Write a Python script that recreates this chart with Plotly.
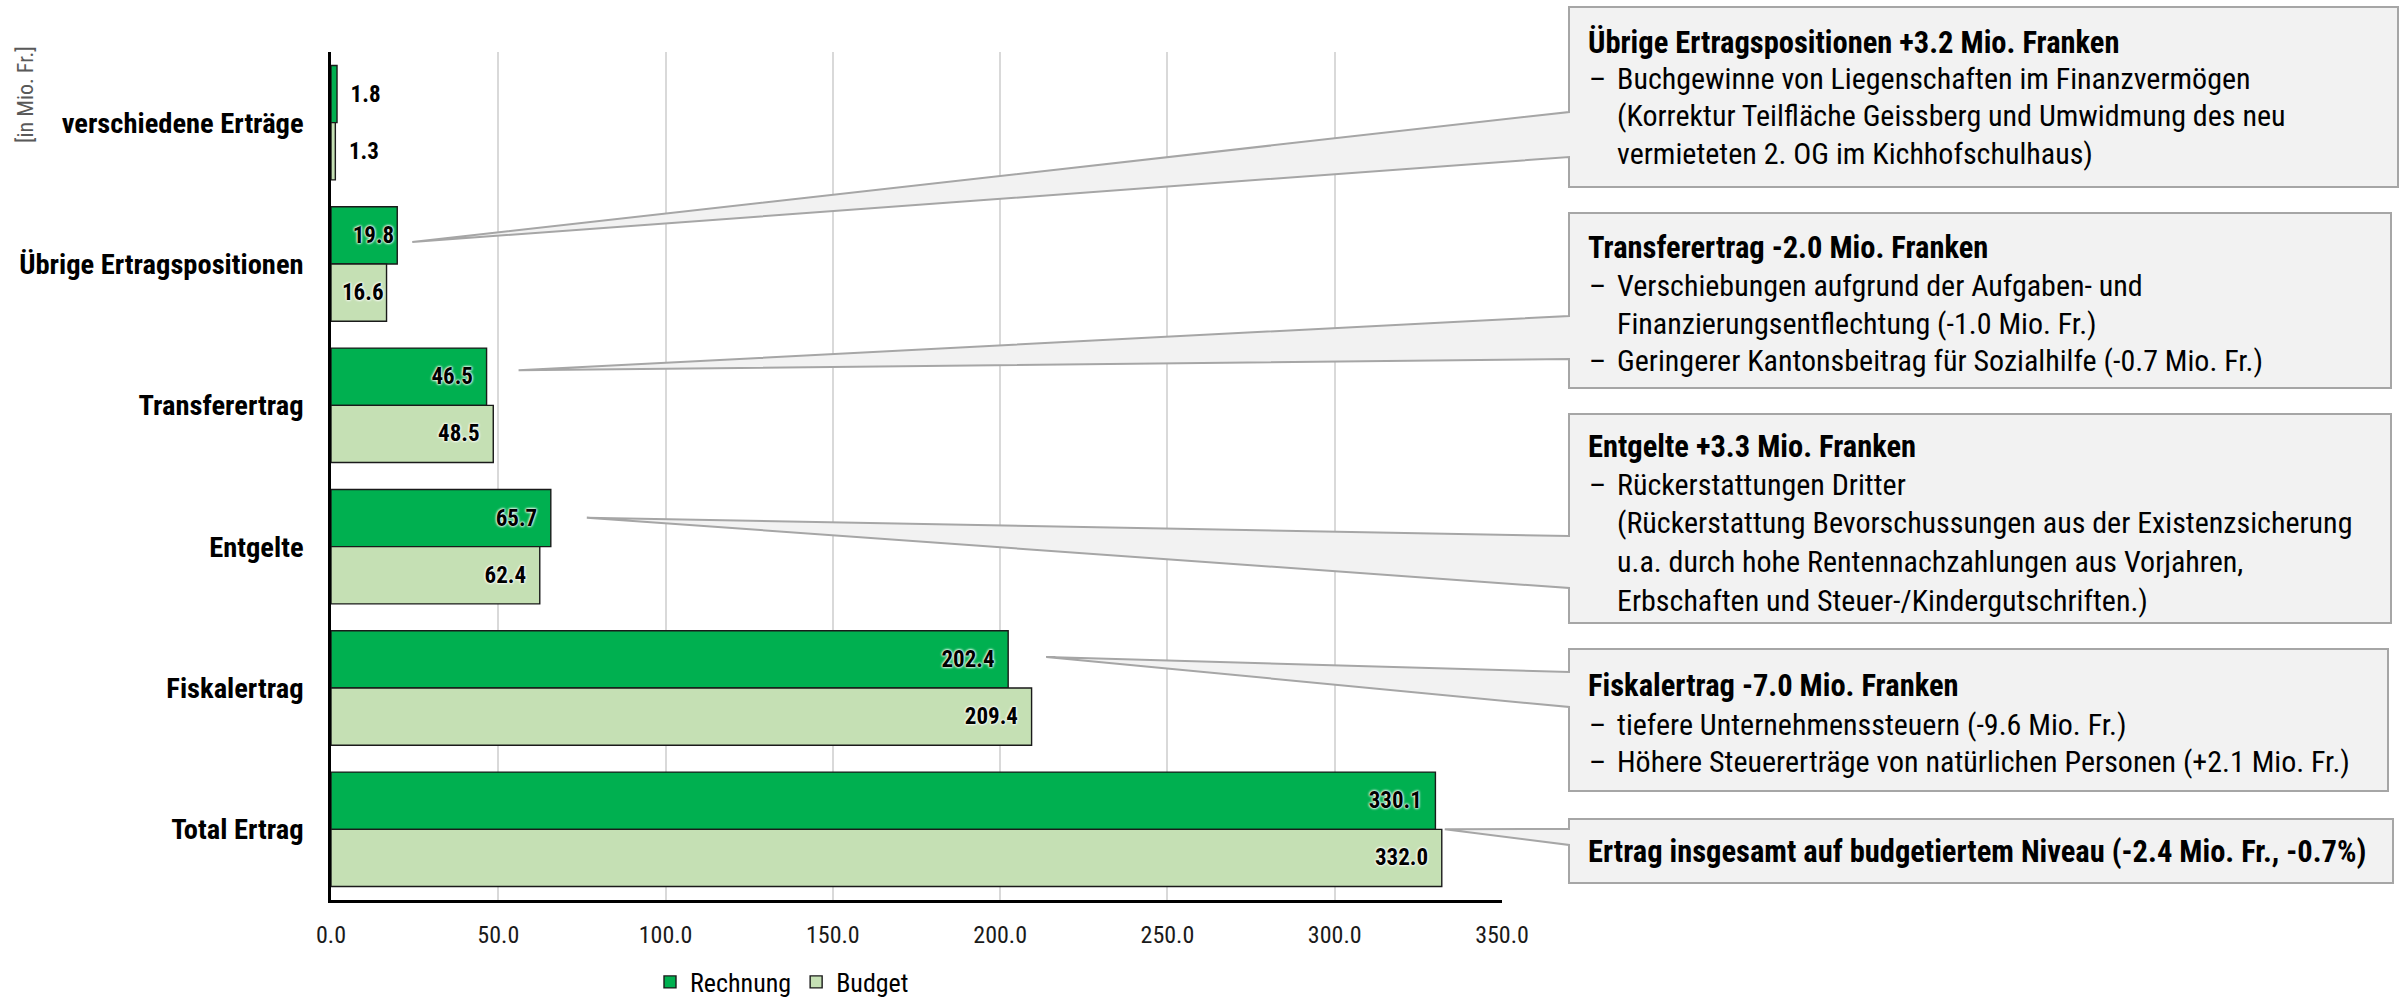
import plotly.graph_objects as go

# ---- data (Mio. Fr.) ----
categories = [
    "verschiedene Erträge",
    "Übrige Ertragspositionen",
    "Transferertrag",
    "Entgelte",
    "Fiskalertrag",
    "Total Ertrag",
]
rechnung = [1.8, 19.8, 46.5, 65.7, 202.4, 330.1]
budget = [1.3, 16.6, 48.5, 62.4, 209.4, 332.0]
x_ticks = [0, 50, 100, 150, 200, 250, 300, 350]

FONT = "Roboto Condensed, DejaVu Sans Condensed, sans-serif"
DARK_GREEN = "#00B050"
LIGHT_GREEN = "#C5E0B4"

# ---- page geometry (pixels) ----
W, H = 2402, 999
PL, PR, PT, PB = 331, 1502, 52, 900   # plot area edges
XMAX = 350


def paper_x(px):
    return (px - PL) / (PR - PL)


def paper_y(py):
    return (PB - py) / (PB - PT)


def data_px_x(v):
    return PL + v * (PR - PL) / XMAX


def cat_px_y(i):
    return PT + (i + 0.5) * (PB - PT) / len(categories)


def font(size, color="black", bold=False, family=FONT):
    return dict(family=family, size=size, color=color,
                weight="bold" if bold else "normal")


def labels(values):
    out = []
    for v in values:
        s = f"{v:.1f}"
        if v < 5:
            out.append("\u00a0\u00a0" + s)
        elif v >= 30:
            out.append(s + "\u00a0\u00a0")
        else:
            out.append(s)
    return out


def positions(values):
    return ["outside" if v < 5 else "inside" for v in values]


label_font = dict(font(23, bold=True),
                  shadow="0px 0px 2px #fff, 0px 0px 3px #fff, 0px 0px 3px #fff")

fig = go.Figure()
for name, vals, col in [("Rechnung", rechnung, DARK_GREEN), ("Budget", budget, LIGHT_GREEN)]:
    fig.add_trace(go.Bar(
        name=name, y=categories, x=vals, orientation="h",
        marker=dict(color=col, line=dict(color="#1a1a1a", width=1.4)),
        text=labels(vals), textposition=positions(vals),
        insidetextanchor="end", textangle=0,
        textfont=label_font, outsidetextfont=label_font, insidetextfont=label_font,
        cliponaxis=False,
        hoverinfo="skip",
    ))

# ---- callout boxes with pointer wedges ----
# (box left, top, right, bottom), wedge base y on left edge, tip: (series, category, dx, dy)
callouts = [
    ((1569, 7, 2398, 187), (112, 157), (rechnung, 1, 15, -22)),
    ((1569, 213, 2391, 388), (316, 359), (rechnung, 2, 32, -35)),
    ((1569, 414, 2391, 623), (536, 588), (rechnung, 3, 36, -29)),
    ((1569, 649, 2388, 791), (672, 707), (rechnung, 4, 38, -31)),
    ((1569, 819, 2393, 883), (829, 845), (budget, 5, 3, 0)),
]

callout_text = [
    [("title", "Übrige Ertragspositionen +3.2 Mio. Franken", 43),
     ("bullet", "Buchgewinne von Liegenschaften im Finanzvermögen", 79),
     ("cont", "(Korrektur Teilfläche Geissberg und Umwidmung des neu", 116),
     ("cont", "vermieteten 2. OG im Kichhofschulhaus)", 153)],
    [("title", "Transferertrag -2.0 Mio. Franken", 247),
     ("bullet", "Verschiebungen aufgrund der Aufgaben- und", 285),
     ("cont", "Finanzierungsentflechtung (-1.0 Mio. Fr.)", 323),
     ("bullet", "Geringerer Kantonsbeitrag für Sozialhilfe (-0.7 Mio. Fr.)", 360)],
    [("title", "Entgelte +3.3 Mio. Franken", 446),
     ("bullet", "Rückerstattungen Dritter", 484),
     ("cont", "(Rückerstattung Bevorschussungen aus der Existenzsicherung", 522),
     ("cont", "u.a. durch hohe Rentennachzahlungen aus Vorjahren,", 561),
     ("cont", "Erbschaften und Steuer-/Kindergutschriften.)", 600)],
    [("title", "Fiskalertrag -7.0 Mio. Franken", 685),
     ("bullet", "tiefere Unternehmenssteuern (-9.6 Mio. Fr.)", 724),
     ("bullet", "Höhere Steuererträge von natürlichen Personen (+2.1 Mio. Fr.)", 761)],
    [("title", "Ertrag insgesamt auf budgetiertem Niveau (-2.4 Mio. Fr., -0.7%)", 852)],
]

shapes = []
annotations = []
for (box, base, tip), lines in zip(callouts, callout_text):
    l, t, r, b = box
    series, ci, dx, dy = tip
    tx = data_px_x(series[ci]) + dx
    ty = cat_px_y(ci) + dy
    pts = [(l, t), (r, t), (r, b), (l, b), (l, base[1]), (tx, ty), (l, base[0])]
    path = "M " + " L ".join(f"{paper_x(x):.5f},{paper_y(y):.5f}" for x, y in pts) + " Z"
    shapes.append(dict(type="path", xref="paper", yref="paper", path=path,
                       fillcolor="#F2F2F2", line=dict(color="#A6A6A6", width=2),
                       layer="above"))
    for kind, txt, y in lines:
        if kind == "title":
            annotations.append(dict(text=txt, x=paper_x(1586), y=paper_y(y),
                                    xref="paper", yref="paper", xanchor="left", yanchor="middle",
                                    showarrow=False, font=font(30.5, bold=True)))
        else:
            if kind == "bullet":
                annotations.append(dict(text="–", x=paper_x(1587), y=paper_y(y),
                                        xref="paper", yref="paper", xanchor="left", yanchor="middle",
                                        showarrow=False, font=font(30)))
            annotations.append(dict(text=txt, x=paper_x(1615), y=paper_y(y),
                                    xref="paper", yref="paper", xanchor="left", yanchor="middle",
                                    showarrow=False, font=font(30)))

# unit label
annotations.append(dict(text="[in Mio. Fr.]", x=paper_x(26), y=paper_y(95),
                        xref="paper", yref="paper", xanchor="center", yanchor="middle",
                        textangle=-90, showarrow=False, font=font(22, "#595959")))

fig.update_layout(
    width=W, height=H,
    margin=dict(l=PL, r=W - PR, t=PT, b=H - PB, pad=0, autoexpand=False),
    paper_bgcolor="white", plot_bgcolor="white",
    barmode="group", bargap=0.19, bargroupgap=0,
    font=dict(family=FONT, color="black"),
    shapes=shapes, annotations=annotations,
    legend=dict(orientation="h", x=paper_x(782), y=paper_y(982),
                xanchor="center", yanchor="middle",
                font=font(26), itemwidth=30, tracegroupgap=0),
    showlegend=True,
)
fig.update_xaxes(
    range=[0, XMAX], tickvals=x_ticks, tickformat=".1f",
    showgrid=True, gridcolor="#D9D9D9", gridwidth=2,
    showline=True, linecolor="black", linewidth=2.5,
    zeroline=False, ticks="", ticklabelstandoff=11, automargin=False,
    tickfont=font(24, "#1a1a1a"),
)
fig.update_yaxes(
    categoryorder="array", categoryarray=categories, autorange="reversed",
    showgrid=False, showline=True, linecolor="black", linewidth=2.5,
    ticks="", ticklabelstandoff=19, automargin=False,
    tickfont=font(28.5, bold=True),
)

fig.write_html("out.html")
